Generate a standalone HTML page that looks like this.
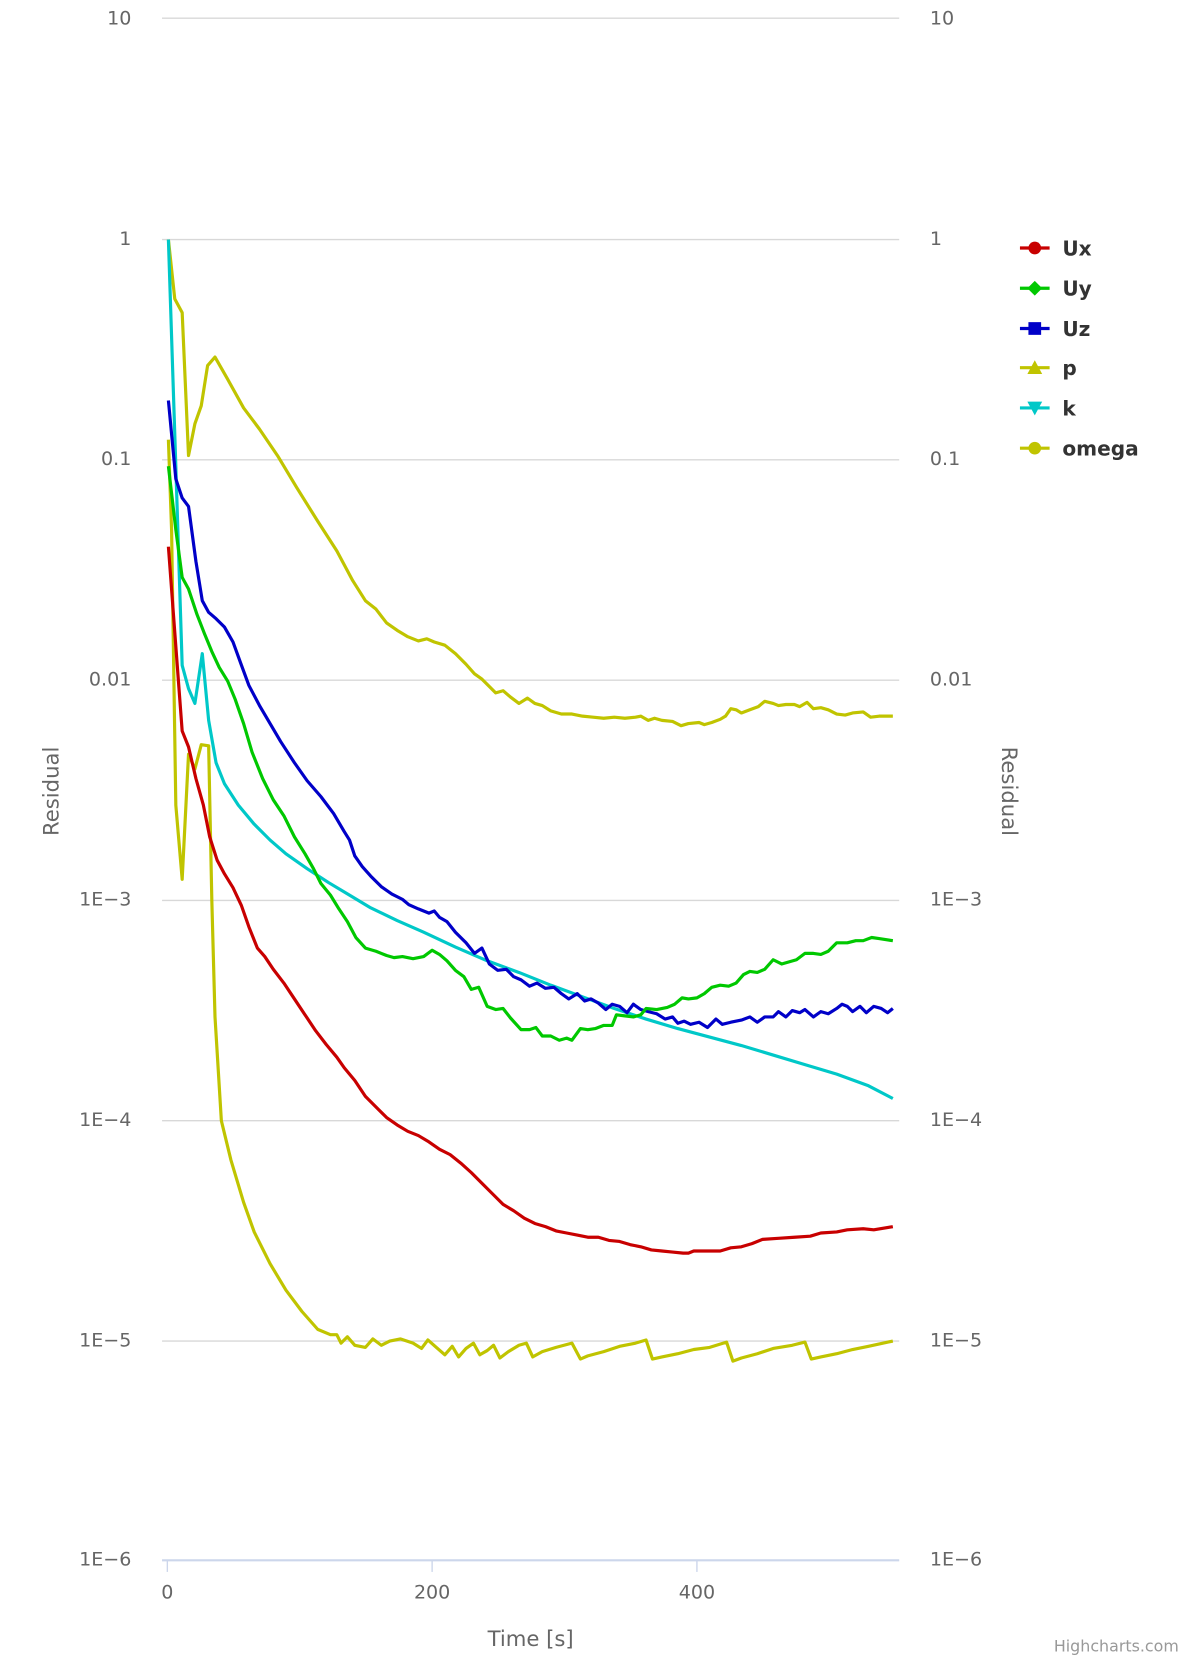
<!DOCTYPE html>
<html><head><meta charset="utf-8"><style>html,body{margin:0;padding:0;background:#fff}svg{display:block}</style></head><body>
<svg width="1200" height="1660" viewBox="0 0 1133 1567" xmlns="http://www.w3.org/2000/svg" font-family="'DejaVu Sans','Liberation Sans',sans-serif">
<g stroke="#d8d8d8" stroke-width="1.3">
<line x1="153" y1="17" x2="849" y2="17"/><line x1="153" y1="226" x2="849" y2="226"/><line x1="153" y1="434" x2="849" y2="434"/><line x1="153" y1="642" x2="849" y2="642"/><line x1="153" y1="850" x2="849" y2="850"/><line x1="153" y1="1058" x2="849" y2="1058"/><line x1="153" y1="1266" x2="849" y2="1266"/>
</g>
<line x1="153" y1="1473" x2="849" y2="1473" stroke="#ccd6eb" stroke-width="2"/>
<g stroke="#ccd6eb" stroke-width="1.3"><line x1="158" y1="1473" x2="158" y2="1484"/><line x1="408" y1="1473" x2="408" y2="1484"/><line x1="658" y1="1473" x2="658" y2="1484"/></g>
<g fill="#666" font-size="18" text-anchor="end">
<text x="124" y="23">10</text><text x="124" y="231">1</text><text x="124" y="439">0.1</text><text x="124" y="647">0.01</text><text x="124" y="855">1E−3</text><text x="124" y="1063">1E−4</text><text x="124" y="1271">1E−5</text><text x="124" y="1478">1E−6</text>
</g>
<g fill="#666" font-size="18" text-anchor="start">
<text x="878" y="23">10</text><text x="878" y="231">1</text><text x="878" y="439">0.1</text><text x="878" y="647">0.01</text><text x="878" y="855">1E−3</text><text x="878" y="1063">1E−4</text><text x="878" y="1271">1E−5</text><text x="878" y="1478">1E−6</text>
</g>
<g fill="#666" font-size="18" text-anchor="middle">
<text x="158" y="1509">0</text><text x="408" y="1509">200</text><text x="658" y="1509">400</text>
<text x="501" y="1554" font-size="20">Time [s]</text>
<text transform="translate(55,747) rotate(-90)" font-size="20">Residual</text>
<text transform="translate(946,747) rotate(90)" font-size="20">Residual</text>
</g>
<text x="1113" y="1559" text-anchor="end" fill="#999" font-size="15">Highcharts.com</text>
<g fill="none" stroke-width="3" stroke-linejoin="round">
<polyline stroke="#c0c400" points="159,226 165,282 172,295 178,430 184,400 190,383 196,345 203,337 215,358 230,385 245,405 262,430 280,460 300,492 318,520 333,548 345,567 355,575 365,588 375,595 385,601 395,605 403,603 410,606 420,609 430,617 440,627 448,636 455,641 462,648 468,654 475,652 482,658 490,664 498,659 505,664 512,666 520,671 530,674 540,674 550,676 560,677 570,678 580,677 590,678 600,677 605,676 612,680 618,678 625,680 635,681 643,685 650,683 660,682 665,684 672,682 680,679 685,676 690,669 695,670 700,673 708,670 716,667 722,662 730,664 735,666 742,665 750,665 755,667 762,663 768,669 775,668 782,670 790,674 798,675 805,673 815,672 822,677 830,676 843,676"/>
<polyline stroke="#c0c400" points="159,415 162,500 166,760 172,830 178,712 184,726 190,703 197,704 200,850 203,960 209,1058 218,1095 230,1135 240,1163 255,1193 270,1218 285,1238 300,1255 312,1260 318,1260 322,1268 328,1262 335,1270 345,1272 352,1264 360,1270 368,1266 378,1264 390,1268 398,1273 404,1265 412,1272 420,1279 427,1271 433,1281 440,1273 447,1268 453,1279 460,1275 466,1270 472,1282 480,1276 490,1270 497,1268 503,1281 512,1276 525,1272 540,1268 548,1283 555,1280 570,1276 585,1271 600,1268 610,1265 616,1283 625,1281 640,1278 655,1274 670,1272 686,1267 692,1285 700,1282 715,1278 730,1273 748,1270 760,1267 766,1283 775,1281 790,1278 805,1274 820,1271 843,1266"/>
<polyline stroke="#00c8c8" points="159,226 166,440 172,628 178,650 184,664 191,617 197,680 204,720 212,740 225,760 240,778 255,793 270,806 290,820 310,833 330,845 350,857 375,869 400,880 430,894 460,907 490,918 520,930 550,941 580,952 610,962 640,971 670,979 700,987 730,996 760,1005 790,1014 820,1025 843,1037"/>
<polyline stroke="#0000c8" points="159,378 166,452 172,470 178,478 185,530 191,567 197,578 204,584 212,592 220,606 228,628 235,647 245,666 255,683 265,700 278,720 290,737 303,752 315,768 325,785 330,793 335,808 342,818 350,827 360,837 370,844 380,849 386,854 395,858 405,862 410,860 415,866 422,870 430,880 440,890 448,900 455,895 462,910 470,916 478,915 485,922 492,925 500,931 507,928 515,933 523,932 530,938 537,943 545,938 552,945 558,943 565,947 572,953 578,948 585,950 592,956 598,948 605,953 612,955 620,957 628,962 635,960 640,966 646,964 652,967 660,965 668,970 676,962 682,967 690,965 700,963 708,960 715,965 722,960 730,960 735,955 742,960 748,954 755,956 760,953 768,960 775,955 782,957 790,952 795,948 800,950 805,955 812,950 818,956 825,950 832,952 838,956 843,952"/>
<polyline stroke="#00c800" points="159,440 166,500 172,545 178,556 186,580 193,598 200,615 207,630 215,643 222,660 230,683 238,710 248,735 258,755 268,770 278,790 288,806 296,820 303,834 312,845 320,858 328,870 336,885 345,895 355,898 365,902 372,904 380,903 390,905 400,903 408,897 415,901 422,907 430,916 438,922 445,934 452,932 460,950 468,953 475,952 482,961 492,972 500,972 506,970 512,978 520,978 528,982 535,980 540,982 548,971 555,972 562,971 570,968 578,968 582,958 590,959 598,960 605,958 610,952 620,953 630,951 637,948 644,942 650,943 658,942 665,938 672,932 680,930 688,931 695,928 702,920 708,917 715,918 722,915 730,906 738,910 745,908 752,906 760,900 768,900 775,901 782,898 790,890 800,890 808,888 815,888 823,885 830,886 843,888"/>
<polyline stroke="#c80000" points="159,516 166,610 172,690 178,705 185,735 192,760 198,790 205,812 212,825 220,838 228,855 235,875 243,895 250,903 258,915 268,928 278,943 288,958 298,973 308,986 318,998 325,1008 335,1020 345,1035 355,1045 365,1055 375,1062 385,1068 395,1072 405,1078 415,1085 425,1090 435,1098 445,1107 455,1117 465,1127 475,1137 485,1143 495,1150 505,1155 515,1158 525,1162 535,1164 545,1166 555,1168 565,1168 575,1171 585,1172 595,1175 605,1177 615,1180 625,1181 635,1182 645,1183 650,1183 655,1181 665,1181 680,1181 690,1178 700,1177 710,1174 720,1170 735,1169 750,1168 765,1167 775,1164 790,1163 800,1161 815,1160 825,1161 843,1158"/>
</g>
<g stroke-width="3">
<line x1="963" y1="234" x2="991" y2="234" stroke="#c80000"/><circle cx="977" cy="234" r="6" fill="#c80000"/>
<line x1="963" y1="272" x2="991" y2="272" stroke="#00c800"/><path d="M977,265 L984,272 L977,279 L970,272Z" fill="#00c800"/>
<line x1="963" y1="310" x2="991" y2="310" stroke="#0000c8"/><rect x="971" y="304" width="12" height="12" fill="#0000c8"/>
<line x1="963" y1="347" x2="991" y2="347" stroke="#c0c400"/><path d="M977,340 L984,353 L970,353Z" fill="#c0c400"/>
<line x1="963" y1="385" x2="991" y2="385" stroke="#00c8c8"/><path d="M970,379 L984,379 L977,392Z" fill="#00c8c8"/>
<line x1="963" y1="423" x2="991" y2="423" stroke="#c0c400"/><circle cx="977" cy="423" r="6" fill="#c0c400"/>
</g>
<g fill="#333" font-size="19" font-weight="bold">
<text x="1003" y="241">Ux</text><text x="1003" y="279">Uy</text><text x="1003" y="317">Uz</text><text x="1003" y="354">p</text><text x="1003" y="392">k</text><text x="1003" y="430">omega</text>
</g>
</svg>
</body></html>
